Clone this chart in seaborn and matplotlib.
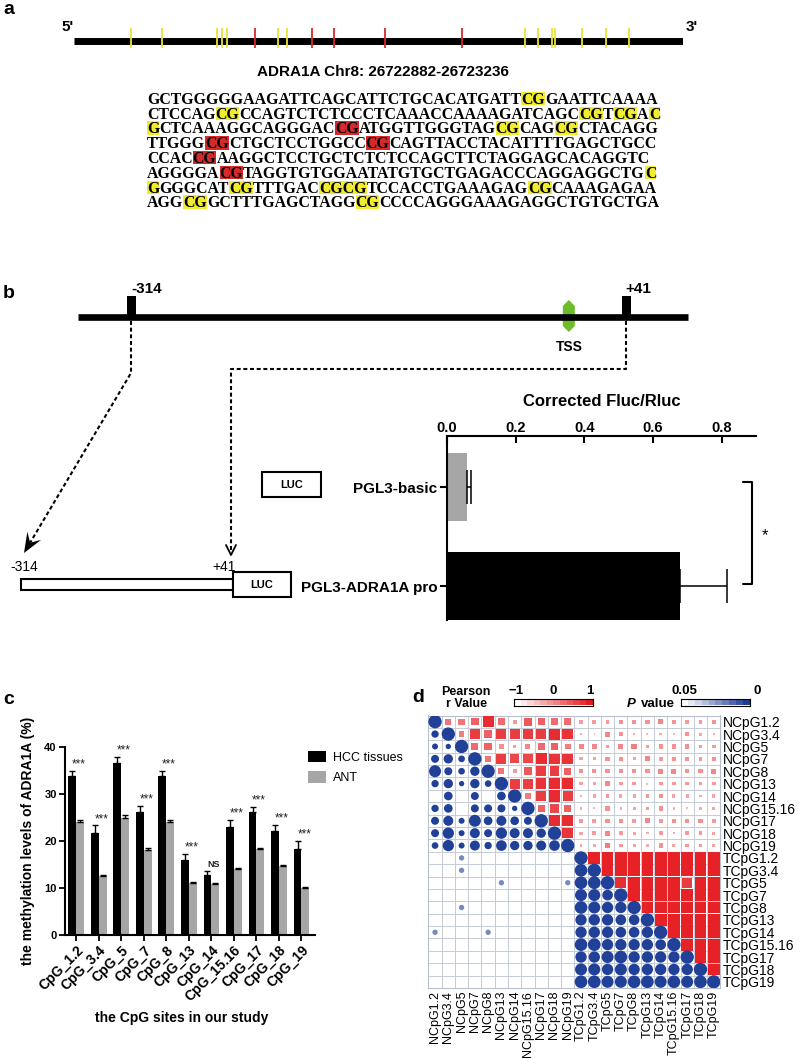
import numpy as np
import pandas as pd
import matplotlib
matplotlib.use("Agg")
import matplotlib.pyplot as plt
import seaborn as sns
from matplotlib.patches import Rectangle, Polygon
from matplotlib.colors import LinearSegmentedColormap, ListedColormap
from matplotlib.font_manager import FontProperties

# ======================= DATA =======================
# --- panel a: CpG island of ADRA1A
region_start, region_end = 26722882, 26723236
cpg_bp = [33.5, 51.4, 83.2, 86.0, 88.9, 105.4, 119.2, 124.0, 138.6, 151.7,
          181.3, 226.2, 262.7, 270.6, 278.5, 280.4, 296.4, 310.0, 323.8]
cpg_methylated = [0, 0, 0, 0, 0, 1, 0, 0, 1, 1, 1, 1, 0, 0, 0, 0, 0, 0, 0]
# [..] = CpG (yellow), {..} = methylated CpG (red)
seq_lines = [
    "GCTGGGGGAAGATTCAGCATTCTGCACATGATT[CG]GAATTCAAAA",
    "CTCCAG[CG]CCAGTCTCTCCCTCAAACCAAAAGATCAGC[CG]T[CG]A[C]",
    "[G]CTCAAAGGCAGGGAC{CG}ATGGTTGGGTAG[CG]CAG[CG]CTACAGG",
    "TTGGG{CG}CTGCTCCTGGCC{CG}CAGTTACCTACATTTTGAGCTGCC",
    "CCAC{CG}AAGGCTCCTGCTCTCTCCAGCTTCTAGGAGCACAGGTC",
    "AGGGGA{CG}TAGGTGTGGAATATGTGCTGAGACCCAGGAGGCTG[C]",
    "[G]GGGCAT[CG]TTTGAC[CGCG]TCCACCTGAAAGAG[CG]CAAAGAGAA",
    "AGG[CG]GCTTTGAGCTAGG[CG]CCCCAGGGAAAGAGGCTGTGCTGA",
]

# --- panel b: luciferase assay
luc_constructs = ["PGL3-basic", "PGL3-ADRA1A pro"]
luc_values = [0.057, 0.68]
luc_err = [0.013, 0.135]
luc_ticks = [0.0, 0.2, 0.4, 0.6, 0.8]
luc_tick_labels = ["0.0", "0.2", "0.4", "0.6", "0.8"]
promoter_start, promoter_end = -314, 41

# --- panel c: methylation levels
cpg_sites = ["CpG_1.2", "CpG_3.4", "CpG_5", "CpG_7", "CpG_8", "CpG_13",
             "CpG_14", "CpG_15.16", "CpG_17", "CpG_18", "CpG_19"]
hcc_values = [33.9, 21.8, 36.5, 26.2, 33.9, 16.0, 12.8, 23.0, 26.2, 22.2, 18.4]
hcc_err = [1.1, 1.5, 1.4, 1.2, 1.1, 1.2, 0.9, 1.5, 1.1, 1.3, 1.6]
ant_values = [24.0, 12.5, 24.8, 18.1, 24.1, 11.0, 10.8, 14.0, 18.2, 14.7, 9.9]
ant_err = [0.5, 0.3, 0.7, 0.4, 0.4, 0.3, 0.3, 0.3, 0.4, 0.3, 0.3]
sig_labels = ["***", "***", "***", "***", "***", "***", "NS", "***", "***", "***", "***"]
c_yticks = [0, 10, 20, 30, 40]

# --- panel d: correlation matrix
n_labels = ["NCpG1.2", "NCpG3.4", "NCpG5", "NCpG7", "NCpG8", "NCpG13",
            "NCpG14", "NCpG15.16", "NCpG17", "NCpG18", "NCpG19"]
t_labels = ["TCpG1.2", "TCpG3.4", "TCpG5", "TCpG7", "TCpG8", "TCpG13",
            "TCpG14", "TCpG15.16", "TCpG17", "TCpG18", "TCpG19"]
# upper triangle: |r| (square), lower triangle: circle size (0 = not significant)
n_block = [
    [1.00, .50, .50, .60, .90, .55, .30, .65, .60, .55, .55],
    [.55, 1.00, .45, .80, .60, .80, .80, .80, .80, .90, .85],
    [.45, .40, 1.00, .55, .60, .35, .25, .40, .55, .60, .45],
    [.60, .70, .50, 1.00, .50, .80, .75, .75, .90, .85, .85],
    [.90, .60, .50, .70, 1.00, .50, .30, .65, .80, .80, .60],
    [.55, .70, .40, .70, .50, 1.00, .80, .80, .85, .90, .90],
    [.00, .65, .00, .60, .00, .65, 1.00, .45, .80, .90, .80],
    [.55, .65, .00, .60, .60, .60, .40, 1.00, .60, .75, .60],
    [.60, .75, .45, .90, .65, .75, .65, .60, 1.00, .90, .90],
    [.60, .85, .45, .75, .60, .85, .75, .75, .70, 1.00, .85],
    [.50, .85, .45, .75, .55, .80, .70, .70, .75, .80, 1.00],
]
nt_block = [
    [.30, .30, .30, .35, .35, .35, .40, .35, .30, .30, .35],
    [.20, .10, .40, .35, .20, .15, .20, .15, .35, .25, .20],
    [.40, .40, .30, .40, .45, .30, .35, .35, .35, .30, .30],
    [.25, .25, .35, .35, .25, .40, .30, .35, .35, .30, .35],
    [.35, .35, .35, .35, .35, .35, .40, .40, .35, .35, .40],
    [.25, .25, .40, .30, .30, .15, .30, .30, .30, .30, .30],
    [.20, .25, .30, .25, .25, .30, .35, .25, .25, .20, .25],
    [.20, .15, .35, .20, .25, .30, .35, .20, .15, .20, .25],
    [.30, .30, .35, .35, .30, .40, .30, .35, .35, .35, .30],
    [.25, .30, .40, .30, .25, .20, .30, .20, .30, .30, .25],
    [.20, .20, .45, .30, .25, .20, .35, .25, .30, .30, .25],
]
t_block = [
    [1.00, .95, .95, .95, .95, .95, .95, .95, .95, .95, .95],
    [.95, 1.00, .95, .95, .95, .95, .95, .95, .95, .95, .95],
    [.95, .95, 1.00, .88, .95, .95, .95, .95, .80, .95, .95],
    [.90, .90, .80, 1.00, .95, .95, .95, .95, .95, .95, .95],
    [.95, .90, .85, .85, 1.00, .95, .95, .95, .95, .95, .95],
    [.85, .85, .85, .80, .80, 1.00, .95, .95, .95, .95, .95],
    [.85, .85, .85, .80, .80, .85, 1.00, .95, .95, .95, .95],
    [.95, .95, .85, .85, .85, .85, .80, 1.00, .95, .95, .95],
    [.85, .85, .90, .95, .85, .85, .85, .85, 1.00, .95, .95],
    [.90, .90, .85, .90, .85, .85, .85, .85, .85, 1.00, .95],
    [.95, .95, .90, .90, .95, .95, .90, .95, .90, .95, 1.00],
]
within_block_p = 0.001
# (T row, N column, circle size, p value)
tn_circles = [(0, 2, .40, .02), (1, 2, .40, .02), (2, 5, .40, .02), (2, 10, .40, .02),
              (4, 2, .40, .02), (6, 0, .40, .02), (6, 4, .40, .02)]

# ======================= STYLE / FIGURE =======================
sns.set_theme(style="white")
plt.rcParams["font.family"] = ["Liberation Sans", "DejaVu Sans"]
plt.rcParams.update({"text.color": "black", "axes.labelcolor": "black",
                     "xtick.color": "black", "ytick.color": "black",
                     "axes.edgecolor": "black"})

W, H = 800, 1058
fig = plt.figure(figsize=(W / 100, H / 100), dpi=100)
fig.patch.set_facecolor("white")


def fbox(x0, y0, x1, y1):
    return [x0 / W, 1 - y1 / H, (x1 - x0) / W, (y1 - y0) / H]


ov = fig.add_axes([0, 0, 1, 1], zorder=10)
ov.set_xlim(0, W)
ov.set_ylim(H, 0)
ov.axis("off")

YELLOW = "#f1ec2e"
RED = "#d42a2a"
GRAY = "#a6a6a6"

for lab, (x, y) in {"a": (9, 10), "b": (9, 293), "c": (9, 700), "d": (418, 697)}.items():
    ov.text(x, y, lab, fontsize=14, fontweight="bold", ha="center", va="center")

# ======================= PANEL A =======================
axa = fig.add_axes(fbox(74, 28, 683, 48))
axa.set_xlim(0, region_end - region_start + 1)
axa.set_ylim(0, 1)
axa.axis("off")
axa.axhline(0.35, color="black", lw=5.0, solid_capstyle="butt", zorder=2)
tick_cols = [RED if m else "#e8e23a" for m in cpg_methylated]
axa.vlines(cpg_bp, 0, 1, colors=tick_cols, lw=1.3, zorder=3)
ov.text(68, 27, "5'", fontsize=11, fontweight="bold", ha="center", va="center")
ov.text(692, 27, "3'", fontsize=11, fontweight="bold", ha="center", va="center")
ov.text(383, 72, f"ADRA1A Chr8: {region_start}-{region_end}", fontsize=11,
        fontweight="bold", ha="center", va="center")


def parse(line):
    segs, buf, mode = [], "", None
    for ch in line:
        if ch in "[{":
            if buf:
                segs.append((buf, None))
            buf, mode = "", ("Y" if ch == "[" else "R")
        elif ch in "]}":
            segs.append((buf, mode))
            buf, mode = "", None
        else:
            buf += ch
    if buf:
        segs.append((buf, mode))
    return segs


renderer = fig.canvas.get_renderer()


def seg_width(s, size):
    prop = FontProperties(family="Liberation Serif", weight="bold", size=size)
    w, h, d = renderer.get_text_width_height_descent(s, prop, ismath=False)
    return w


base = 12.0
w1 = sum(seg_width(s, base) for s, _ in parse(seq_lines[0]))
fs = base * 508.0 / w1
cap = 0.662 * fs * 100 / 72
for i, line in enumerate(seq_lines):
    yc = 98.5 + i * 14.8
    x = 147.0
    for s, mode in parse(line):
        w = seg_width(s, fs)
        if mode is not None:
            ov.add_patch(Rectangle((x, yc - 6.8), w, 13.6, fc=YELLOW if mode == "Y" else RED,
                                   ec="none", zorder=1))
        ov.text(x, yc + cap / 2, s, family="Liberation Serif", fontweight="bold",
                fontsize=fs, ha="left", va="baseline", zorder=2)
        x += w

# ======================= PANEL B (diagram) =======================
def px_b(bp):
    # promoter map: -314 -> 131 px, +41 -> 626 px
    return 131 + (bp - promoter_start) * (626 - 131) / (promoter_end - promoter_start)


ov.plot([78, 688], [317, 317], color="black", lw=4.8, solid_capstyle="butt")
for bp in (promoter_start, promoter_end):
    ov.add_patch(Rectangle((px_b(bp) - 4.5, 296), 9, 21, fc="black", ec="none"))
ov.text(px_b(promoter_start), 289, f"{promoter_start}", fontsize=11, fontweight="bold",
        ha="left", va="center")
ov.text(px_b(promoter_end) - 1, 289, f"+{promoter_end}", fontsize=11, fontweight="bold",
        ha="left", va="center")
tx = px_b(0)
ov.add_patch(Polygon([(tx, 300), (tx + 6, 306), (tx + 6, 326), (tx, 332), (tx - 6, 326),
                      (tx - 6, 306)], closed=True, fc="#6cbd2a", ec="none"))
ov.text(tx, 347, "TSS", fontsize=10, fontweight="bold", ha="center", va="center")

dash = (0, (1.9, 1.3))
x314 = px_b(promoter_start)
tip = np.array([24.0, 553.0])
start = np.array([x314, 373.0])
u = (tip - start) / np.linalg.norm(tip - start)
nrm = np.array([-u[1], u[0]])
L, Wd = 20.0, 8.0
basept = tip - 0.6 * L * u
ov.plot([x314, x314, basept[0]], [321, 373, basept[1]], color="black", lw=1.5, ls=dash)
ov.add_patch(Polygon([tip, tip - L * u + Wd * nrm, tip - 0.6 * L * u, tip - L * u - Wd * nrm],
                     closed=True, fc="black", ec="none"))
x41 = px_b(promoter_end)
ov.plot([x41, x41, 231, 231], [321, 369, 369, 552], color="black", lw=1.5, ls=dash)
ov.plot([226, 231, 236], [545, 555, 545], color="black", lw=1.3)

ov.add_patch(Rectangle((262, 472), 59, 25, fc="white", ec="black", lw=1.5))
ov.text(291.5, 485, "LUC", fontsize=8, fontweight="bold", ha="center", va="center")
ov.add_patch(Rectangle((20.5, 579), 212, 11, fc="white", ec="black", lw=1.5))
ov.add_patch(Rectangle((232.5, 572), 58, 25, fc="white", ec="black", lw=1.5))
ov.text(261.5, 585, "LUC", fontsize=8, fontweight="bold", ha="center", va="center")
ov.text(24, 567, f"{promoter_start}", fontsize=10, ha="center", va="center")
ov.text(224, 567, f"+{promoter_end}", fontsize=10, ha="center", va="center")

# ======================= PANEL B (bars) =======================
axb = fig.add_axes(fbox(447, 436, 756, 620))
axb.set_facecolor("none")
dfb = pd.DataFrame({"construct": luc_constructs, "value": luc_values})
sns.barplot(data=dfb, x="value", y="construct", hue="construct", palette=[GRAY, "black"],
            width=0.69, saturation=1, legend=False, orient="h", ax=axb, linewidth=0)
axb.errorbar(luc_values, [0, 1], xerr=[[0, 0], luc_err], fmt="none", ecolor="black",
             elinewidth=1.1, capsize=12, capthick=1.1)
axb.set_xlim(0, 0.9)
axb.set_ylim(1.343, -0.515)
axb.xaxis.tick_top()
axb.set_xticks(luc_ticks)
axb.set_xticklabels(luc_tick_labels, fontsize=10.5, fontweight="bold")
axb.set_yticks([0, 1])
axb.set_yticklabels(luc_constructs, fontsize=11, fontweight="bold")
axb.tick_params(axis="x", direction="in", length=5, width=1.5, pad=1, top=True, bottom=False)
axb.tick_params(axis="y", direction="out", length=5, width=1.5, pad=2, left=True)
axb.set_xlabel("")
axb.set_ylabel("")
for sp in ("right", "bottom"):
    axb.spines[sp].set_visible(False)
for sp in ("top", "left"):
    axb.spines[sp].set_linewidth(1.5)
ov.text(601.5, 402, "Corrected Fluc/Rluc", fontsize=12, fontweight="bold", ha="center",
        va="center")
ov.plot([743, 752, 752, 743], [482, 482, 584, 584], color="black", lw=1.5)
ov.text(765, 536, "*", fontsize=12, ha="center", va="center")

# ======================= PANEL C =======================
axc = fig.add_axes(fbox(65, 747, 315, 935))
axc.set_facecolor("none")
dfc = pd.DataFrame({"site": cpg_sites * 2, "value": hcc_values + ant_values,
                    "group": ["HCC tissues"] * len(cpg_sites) + ["ANT"] * len(cpg_sites)})
sns.barplot(data=dfc, x="site", y="value", hue="group", palette=["black", GRAY],
            width=0.7, saturation=1, errorbar=None, ax=axc, linewidth=0)
for cont, err in zip(axc.containers, [hcc_err, ant_err]):
    xs = [b.get_x() + b.get_width() / 2 for b in cont]
    ys = [b.get_height() for b in cont]
    axc.errorbar(xs, ys, yerr=[np.zeros(len(err)), err], fmt="none", ecolor="black",
                 elinewidth=1.0, capsize=2.2, capthick=1.0)
for i, lab in enumerate(sig_labels):
    top = max(hcc_values[i] + hcc_err[i], ant_values[i] + ant_err[i])
    if lab == "NS":
        axc.text(i + 0.1, top + 0.8, lab, fontsize=6.5, fontweight="bold", ha="center",
                 va="baseline", clip_on=False, color="#222222")
    else:
        axc.text(i + 0.12, top + 0.7, lab, fontsize=8.5, ha="center", va="baseline",
                 clip_on=False, color="#222222")
axc.set_xlim(-0.5, 10.6)
axc.set_ylim(0, 40)
axc.set_yticks(c_yticks)
axc.set_yticklabels([str(v) for v in c_yticks], fontsize=8, fontweight="bold")
axc.set_xticks(range(len(cpg_sites)))
axc.set_xticklabels(cpg_sites, rotation=45, ha="right", rotation_mode="anchor",
                    fontsize=10, fontweight="bold")
axc.tick_params(axis="both", direction="out", length=4, width=1.3, pad=2, left=True,
                bottom=True)
axc.set_xlabel("")
axc.set_ylabel("")
for sp in ("right", "top"):
    axc.spines[sp].set_visible(False)
for sp in ("left", "bottom"):
    axc.spines[sp].set_linewidth(1.5)
hdl, lbl = axc.get_legend_handles_labels()
axc.legend(hdl, lbl, loc="upper left", bbox_to_anchor=(308 / W, 1 - 751 / H),
           bbox_transform=fig.transFigure, frameon=False, fontsize=9, handlelength=1.4,
           handleheight=1.0, labelspacing=0.6, handletextpad=0.6, borderpad=0,
           borderaxespad=0)
ov.text(28, 841, "the methylation levels of ADRA1A (%)", rotation=90, fontsize=10,
        fontweight="bold", ha="center", va="center")
ov.text(182, 1018, "the CpG sites in our study", fontsize=10, fontweight="bold",
        ha="center", va="center")

# ======================= PANEL D =======================
n = len(n_labels)
all_labels = n_labels + t_labels
squares, circles = [], []
for i in range(2 * n):
    for j in range(2 * n):
        if i < n and j < n:
            v = n_block[i][j]
        elif i < n <= j:
            v = nt_block[i][j - n]
        elif i >= n and j >= n:
            v = t_block[i - n][j - n]
        else:
            continue
        if i < j:
            squares.append((j, i, v))
        elif v > 0:
            circles.append((j, i, v, within_block_p))
for ti, nj, sz, p in tn_circles:
    circles.append((nj, n + ti, sz, p))
dsq = pd.DataFrame(squares, columns=["col", "row", "r"])
dsq["area"] = dsq["r"] ** 2
dci = pd.DataFrame(circles, columns=["col", "row", "s", "p"])
dci["area"] = dci["s"] ** 2

red_cmap = LinearSegmentedColormap.from_list("wr", ["#ffffff", "#e5191e"])
blue_cmap = LinearSegmentedColormap.from_list("bw", ["#1d3c96", "#ffffff"])

axd = fig.add_axes(fbox(428.4, 715.5, 720.4, 988))
sns.scatterplot(data=dsq, x="col", y="row", hue="r", palette=red_cmap, hue_norm=(-0.25, 1),
                size="area", sizes=(0, 8.92 ** 2), size_norm=(0, 1), marker="s",
                linewidth=0, legend=False, ax=axd, zorder=3)
sns.scatterplot(data=dci, x="col", y="row", hue="p", palette=blue_cmap, hue_norm=(0, 0.05),
                size="area", sizes=(0, 9.6 ** 2), size_norm=(0, 1), marker="o",
                linewidth=0, legend=False, ax=axd, zorder=3)
axd.set_xlim(-0.5, 2 * n - 0.5)
axd.set_ylim(2 * n - 0.5, -0.5)
axd.set_xticks(np.arange(-0.5, 2 * n, 1), minor=True)
axd.set_yticks(np.arange(-0.5, 2 * n, 1), minor=True)
axd.set_xticks(range(2 * n))
axd.set_yticks(range(2 * n))
axd.set_xticklabels(all_labels, rotation=90, fontsize=9)
axd.set_yticklabels(all_labels, fontsize=10)
axd.yaxis.tick_right()
axd.tick_params(which="both", length=0, pad=2)
axd.grid(which="minor", color="#c6cbd8", lw=0.7)
axd.grid(which="major", visible=False)
axd.set_axisbelow(True)
axd.set_xlabel("")
axd.set_ylabel("")
for sp in axd.spines.values():
    sp.set_color("#b9bfce")
    sp.set_linewidth(0.8)

red_steps = ListedColormap([red_cmap(v) for v in np.linspace(0, 1, 12)])
blue_steps = ListedColormap([blue_cmap(v) for v in np.linspace(1, 0, 10)])
cax1 = fig.add_axes(fbox(514, 699, 593, 705.5))
cax1.imshow(np.linspace(0, 1, 12)[None, :], aspect="auto", cmap=red_steps,
            extent=[0, 1, 0, 1])
cax2 = fig.add_axes(fbox(681, 699, 750, 705.5))
cax2.imshow(np.linspace(0, 1, 10)[None, :], aspect="auto", cmap=blue_steps,
            extent=[0, 1, 0, 1])
for cx in (cax1, cax2):
    cx.set_xticks([])
    cx.set_yticks([])
    for sp in cx.spines.values():
        sp.set_color("black")
        sp.set_linewidth(0.8)
for s, x in (("\u22121", 516), ("0", 553), ("1", 590), ("0.05", 684), ("0", 757)):
    ov.text(x, 691, s, fontsize=9.5, fontweight="bold", ha="center", va="center")
ov.text(466, 698, "Pearson\nr Value", fontsize=9, fontweight="bold", ha="center",
        va="center", linespacing=1.05)
ov.text(631, 704, "P", fontsize=9.5, fontweight="bold", fontstyle="italic", ha="center",
        va="center")
ov.text(641, 704, "value", fontsize=9.5, fontweight="bold", ha="left", va="center")

fig.savefig("out.png", dpi=100)
